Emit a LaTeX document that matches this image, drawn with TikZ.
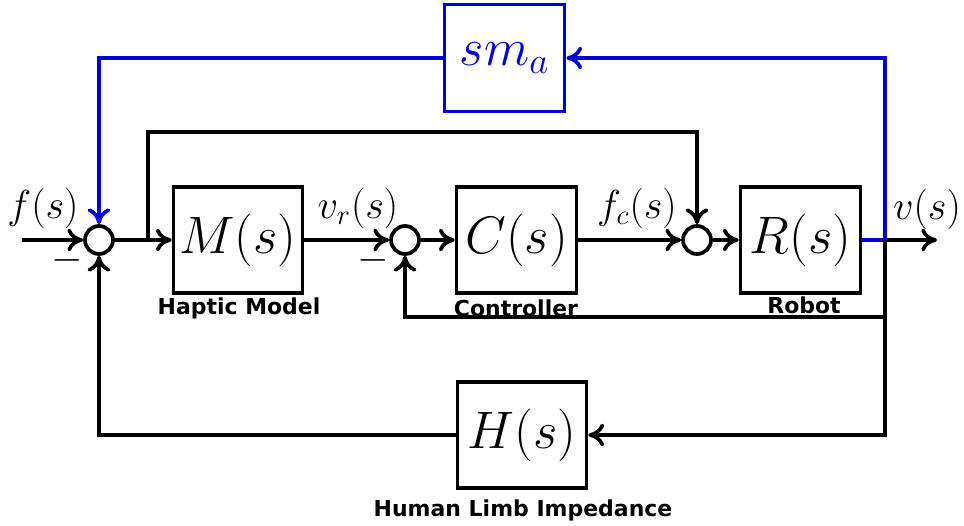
\RequirePackage{fix-cm}
\documentclass[tikz,border=0pt]{standalone}
\usepackage{amsmath}
\usepackage{fontspec}
\usepackage{xcolor}
\usepackage{tikz}
\usetikzlibrary{arrows.meta, positioning, calc}
\newfontfamily\tagfont{DejaVu Sans}
\definecolor{fbblue}{RGB}{0, 0, 215}

\begin{document}
\begin{tikzpicture}[
        blk/.style={draw, line width=2.1pt,
                   minimum width=2.4cm, minimum height=2.12cm,
                   inner sep=0pt, font=\fontsize{30}{32}\selectfont},
        sumc/.style={draw, circle, line width=2.1pt,
                   minimum size=0.56cm, inner sep=0pt},
        wire/.style={line width=2.1pt},
        arr/.style={wire, -{To[length=9pt, width=13pt]}},
        sig/.style={inner sep=0pt, font=\fontsize{23}{25}\selectfont},
        tag/.style={inner sep=0pt, font=\tagfont\bfseries\fontsize{12.5}{14}\selectfont},
      ]
        \useasboundingbox (0,0) rectangle (19.28,10.5);

        \node[sumc] (s1) at (1.98,5.7) {};
        \node[blk, minimum width=2.58cm] (hm) at (4.76,5.7) {$M(s)$};
        \node[sumc] (s2) at (8.10,5.7) {};
        \node[blk] (ctl) at (10.33,5.7) {$C(s)$};
        \node[sumc] (s3) at (13.94,5.7) {};
        \node[blk] (rob) at (16.01,5.7) {$R(s)$};
        \node[blk, minimum width=2.58cm] (limb) at (10.44,1.8) {$H(s)$};
        \node[blk, draw=fbblue, text=fbblue, minimum height=2.14cm] (sma) at (10.09,9.34) {$sm_a$};

        \coordinate (in) at (0.44,5.7);
        \coordinate (out) at (18.74,5.7);
        \coordinate (br) at (17.7,5.7);
        \coordinate (tap) at (2.96,5.7);

        \draw[arr] (in) -- (s1);
        \draw[arr] (s1) -- (hm);
        \draw[arr] (hm) -- (s2);
        \draw[arr] (s2) -- (ctl);
        \draw[arr] (ctl) -- (s3);
        \draw[arr] (s3) -- (rob);
        \draw[wire, fbblue] (rob) -- (br);
        \draw[arr] (br) -- (out);
        \draw[arr] (tap) -- ++(0,2.16) -| (s3);
        \draw[arr, fbblue] (br) |- (sma);
        \draw[arr, fbblue] (sma) -| (s1);
        \draw[arr] (br) -- ++(0,-1.54) -| (s2);
        \draw[arr] (br) |- (limb);
        \draw[arr] (limb) -| (s1);

        \node[sig] (fin) at (0.86,6.34) {$f(s)$};
        \node[sig] (vref) at (7.16,6.34) {$v_r(s)$};
        \node[sig] (fctl) at (12.74,6.34) {$f_c(s)$};
        \node[sig] (vout) at (18.54,6.32) {$v(s)$};
        \node[sig] (m1) at (1.34,5.3) {$-$};
        \node[sig] (m2) at (7.46,5.3) {$-$};

        \node[tag] (thm) at (4.78,4.34) {Haptic Model};
        \node[tag] (tctl) at (10.32,4.34) {Controller};
        \node[tag] (trob) at (16.08,4.4) {Robot};
        \node[tag] (tlimb) at (10.46,0.3) {Human Limb Impedance};
      \end{tikzpicture}
\end{document}
